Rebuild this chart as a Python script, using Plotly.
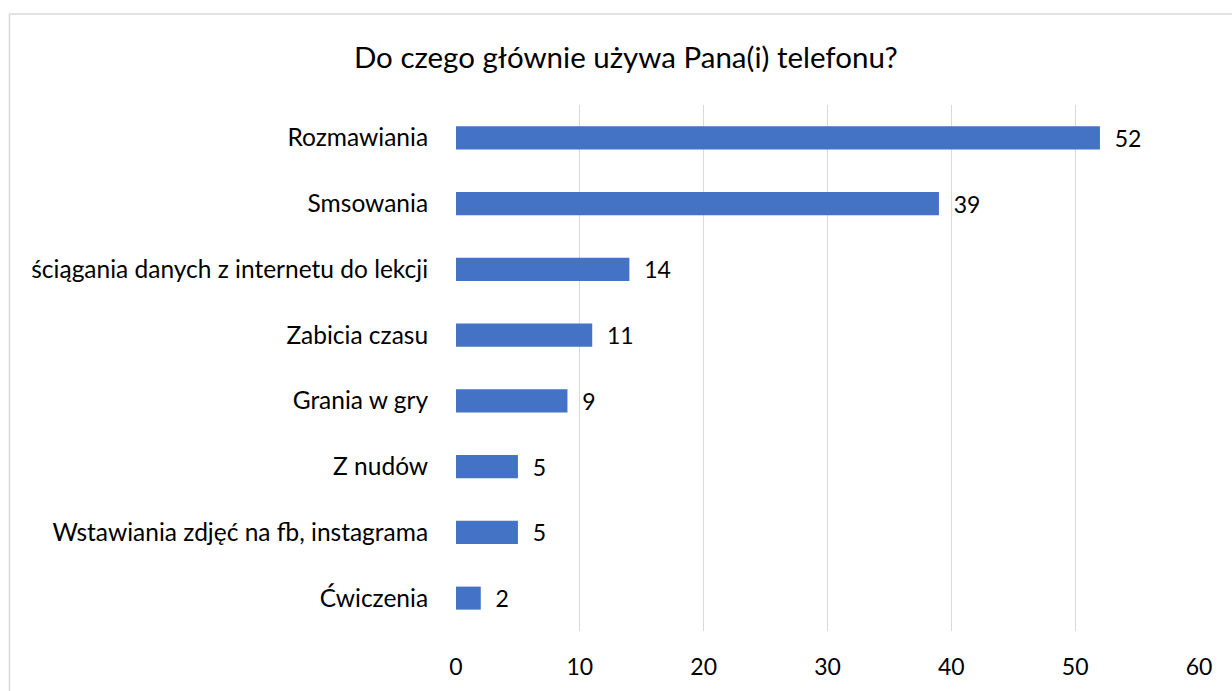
import plotly.graph_objects as go

categories = ["Rozmawiania", "Smsowania", "ściągania danych z internetu do lekcji",
              "Zabicia czasu", "Grania w gry", "Z nudów",
              "Wstawiania zdjęć na fb, instagrama", "Ćwiczenia"]
values = [52, 39, 14, 11, 9, 5, 5, 2]
tick_vals = [0, 10, 20, 30, 40, 50, 60]
title_text = "Do czego głównie używa Pana(i) telefonu?"

FONT = "Lato"

fig = go.Figure(go.Bar(
    x=values,
    y=categories,
    orientation="h",
    marker=dict(color="#4472C4", line=dict(width=0)),
    text=values,
    texttemplate="\u00a0\u00a0%{x}",
    textposition="outside",
    constraintext="none",
    textfont=dict(family=FONT, size=23, color="#000000"),
    cliponaxis=False,
    width=0.35,
))

fig.update_layout(
    width=1232, height=691,
    margin=dict(l=456, r=33, t=105, b=60),
    paper_bgcolor="white", plot_bgcolor="white",
    showlegend=False,
    title=dict(text=title_text, x=0.508, xanchor="center", y=0.916, yanchor="middle",
               font=dict(family=FONT, size=29.5, color="#000000")),
    xaxis=dict(range=[0, 60], tickvals=tick_vals, showgrid=True, gridcolor="#D9D9D9",
               gridwidth=1, zeroline=False, showline=False,
               ticks="outside", ticklen=15, tickcolor="rgba(0,0,0,0)",
               tickfont=dict(family=FONT, size=23, color="#000000")),
    yaxis=dict(categoryorder="array", categoryarray=categories[::-1],
               showgrid=False, zeroline=False, showline=False,
               ticks="outside", ticklen=22, tickcolor="rgba(0,0,0,0)",
               tickfont=dict(family=FONT, size=24.5, color="#000000")),
    shapes=[dict(type="rect", xref="paper", yref="paper",
                 x0=-0.601, x1=1.06, y0=-0.15, y1=1.173,
                 line=dict(color="#D9D9D9", width=1.5), fillcolor="rgba(0,0,0,0)",
                 layer="below")],
)

fig.write_html("out.html")
